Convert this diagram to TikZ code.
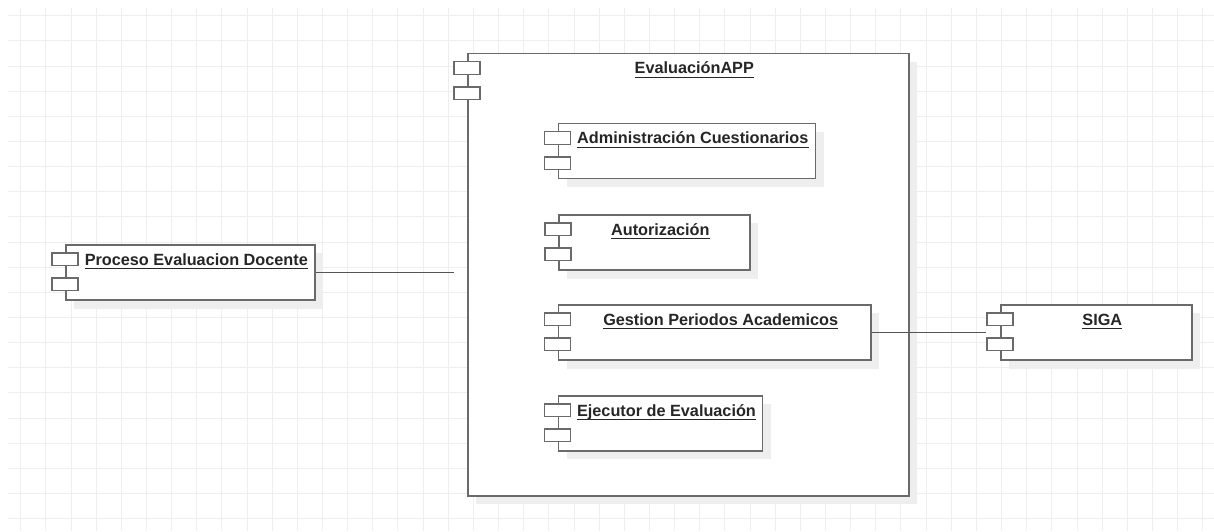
\documentclass[tikz,border=0pt]{standalone}
\usepackage{fontspec}
\setmainfont{Liberation Sans}
\usetikzlibrary{calc,shadows}

\definecolor{gridline}{HTML}{EEEEEE}
\definecolor{boxline}{HTML}{6A6A6A}
\definecolor{wireline}{HTML}{555555}
\definecolor{shade}{HTML}{EEEEEE}
\definecolor{ink}{HTML}{262626}

\tikzset{
  compbox/.style={draw=boxline, line width=1.6pt, fill=white, inner sep=0pt,
    general shadow={fill=shade, shadow xshift=8.5pt, shadow yshift=-8.5pt}},
  port/.style={draw=boxline, line width=1.4pt, fill=white, inner sep=0pt,
    minimum width=26pt, minimum height=12.6pt},
  comptitle/.style={anchor=base, inner sep=0pt, text=ink,
    font=\fontsize{16.25pt}{18pt}\selectfont\bfseries},
  wire/.style={draw=wireline, line width=1.3pt},
  uline/.style={draw=ink, line width=1.2pt}
}

% component: name, left, top, width, height, title
\newcommand\umlcomp[6]{%
  \node[compbox, anchor=north west, minimum width=#4pt, minimum height=#5pt] (#1) at (#2,#3) {};
  \node[port] (#1-p1) at ($(#1.north west)+(0,15.3)$) {};
  \node[port] (#1-p2) at ($(#1.north west)+(0,40.4)$) {};
  \node[comptitle] (#1-t) at ($(#1.north)+(6,21.2)$) {#6};
  \draw[uline] ([yshift=-3.2pt]#1-t.base west) -- ([yshift=-3.2pt]#1-t.base east);
}

\begin{document}
\begin{tikzpicture}[x=1pt,y=-1pt]
  \useasboundingbox (0,0) rectangle (1214,531);

  % background grid
  \foreach \k in {0,...,47}
    \draw[gridline, line width=1pt] ({20.7+25.15*\k},8) -- ({20.7+25.15*\k},531);
  \foreach \k in {0,...,20}
    \draw[gridline, line width=1pt] (8,{15.7+25.15*\k}) -- (1214,{15.7+25.15*\k});

  % outer application component with its parts
  \umlcomp{app}{467}{52.7}{441}{442.3}{EvaluaciónAPP}
  \umlcomp{admin}{557.5}{122.7}{257}{55}{Administración Cuestionarios}
  \umlcomp{auth}{558}{214}{191}{55.3}{Autorización}
  \umlcomp{gest}{557.7}{304}{312.3}{55.3}{Gestion Periodos Academicos}
  \umlcomp{ejec}{557.7}{395}{204}{55}{Ejecutor de Evaluación}

  % external components
  \umlcomp{proc}{65}{244}{249}{55.3}{Proceso Evaluacion Docente}
  \umlcomp{siga}{1000}{304}{191}{55.3}{SIGA}

  % connectors
  \coordinate (procend) at (454,272.2);
  \draw[wire] (proc.east |- procend) -- (procend);
  \draw[wire] (gest.east) -- (gest.east -| siga-p1.west);
\end{tikzpicture}
\end{document}
